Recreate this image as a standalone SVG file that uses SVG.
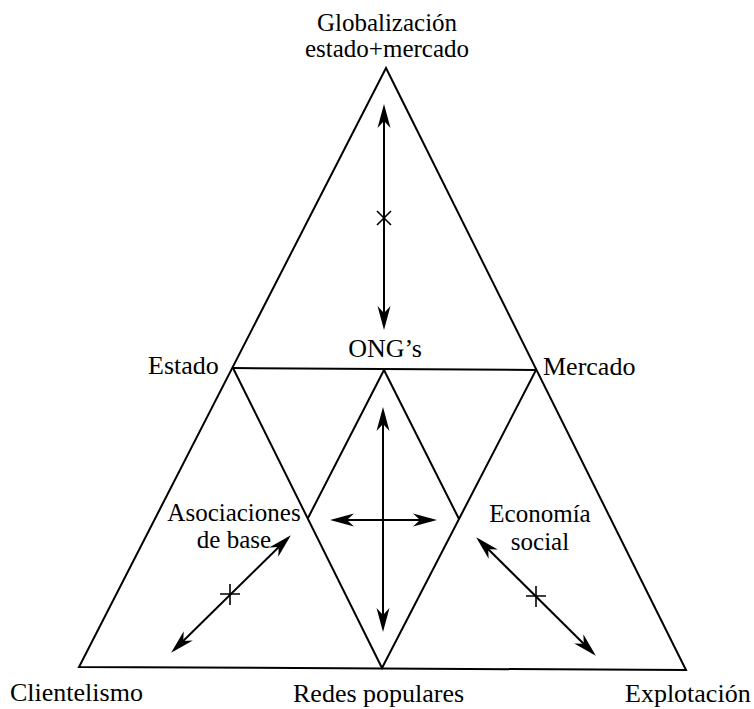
<svg xmlns="http://www.w3.org/2000/svg" width="754" height="709" viewBox="0 0 754 709">
  <style>
    .edge { fill: none; stroke: #000; stroke-width: 2; stroke-linejoin: miter; }
    .arrow { fill: none; stroke: #000; stroke-width: 2; marker-start: url(#head); marker-end: url(#head); }
    .tick { fill: none; stroke: #000; stroke-width: 1.6; }
    text { font-family: "Liberation Serif", "Times New Roman", serif; font-size: 26px; fill: #000; }
    .mid { text-anchor: middle; }
    .two { font-size: 25px; }
  </style>
  <defs>
    <marker id="head" markerUnits="userSpaceOnUse" orient="auto-start-reverse" refX="0" refY="0" markerWidth="30" markerHeight="20" viewBox="-20 -10 30 20" overflow="visible">
      <path d="M4,0 L-20,-6.5 L-13,0 L-20,6.5 Z" fill="#000"/>
    </marker>
  </defs>

  <!-- frame: outer triangle and inner subdivisions -->
  <g id="frame">
    <polygon class="edge" points="386,68 79,667 686,670"/>
    <line class="edge" x1="233" y1="368" x2="536" y2="370"/>
    <polyline class="edge" points="233,368 382,668 536,370"/>
    <polyline class="edge" points="308,518 384,370 459,519"/>
  </g>

  <!-- connectors -->
  <g id="connectors">
    <line class="arrow" x1="384" y1="108" x2="384" y2="326"/>
    <path class="tick" d="M377,211 L391,225 M391,211 L377,225"/>

    <line class="arrow" x1="383" y1="411" x2="383" y2="628"/>
    <line class="arrow" x1="334" y1="520" x2="433" y2="520"/>

    <line class="arrow" x1="288" y1="538" x2="174" y2="650"/>
    <path class="tick" d="M220,594 L240,594 M230,584 L230,605"/>

    <line class="arrow" x1="479" y1="540" x2="593" y2="653"/>
    <path class="tick" d="M526,596 L546,596 M536,586 L536,607"/>
  </g>

  <g id="globalizacion">
    <text class="mid two" x="387" y="31">Globalización</text>
    <text class="mid two" x="387" y="57">estado+mercado</text>
  </g>
  <g id="ong">
    <text class="mid" x="385" y="357">ONG’s</text>
  </g>
  <g id="estado">
    <text x="148" y="374">Estado</text>
  </g>
  <g id="mercado">
    <text x="543" y="375">Mercado</text>
  </g>
  <g id="asociaciones">
    <text class="mid two" x="234" y="521">Asociaciones</text>
    <text class="mid two" x="234" y="548">de base</text>
  </g>
  <g id="economia">
    <text class="mid two" x="540" y="522">Economía</text>
    <text class="mid two" x="540" y="550">social</text>
  </g>
  <g id="clientelismo">
    <text x="10" y="701">Clientelismo</text>
  </g>
  <g id="redes">
    <text x="293" y="702">Redes populares</text>
  </g>
  <g id="explotacion">
    <text x="625" y="702">Explotación</text>
  </g>
</svg>
